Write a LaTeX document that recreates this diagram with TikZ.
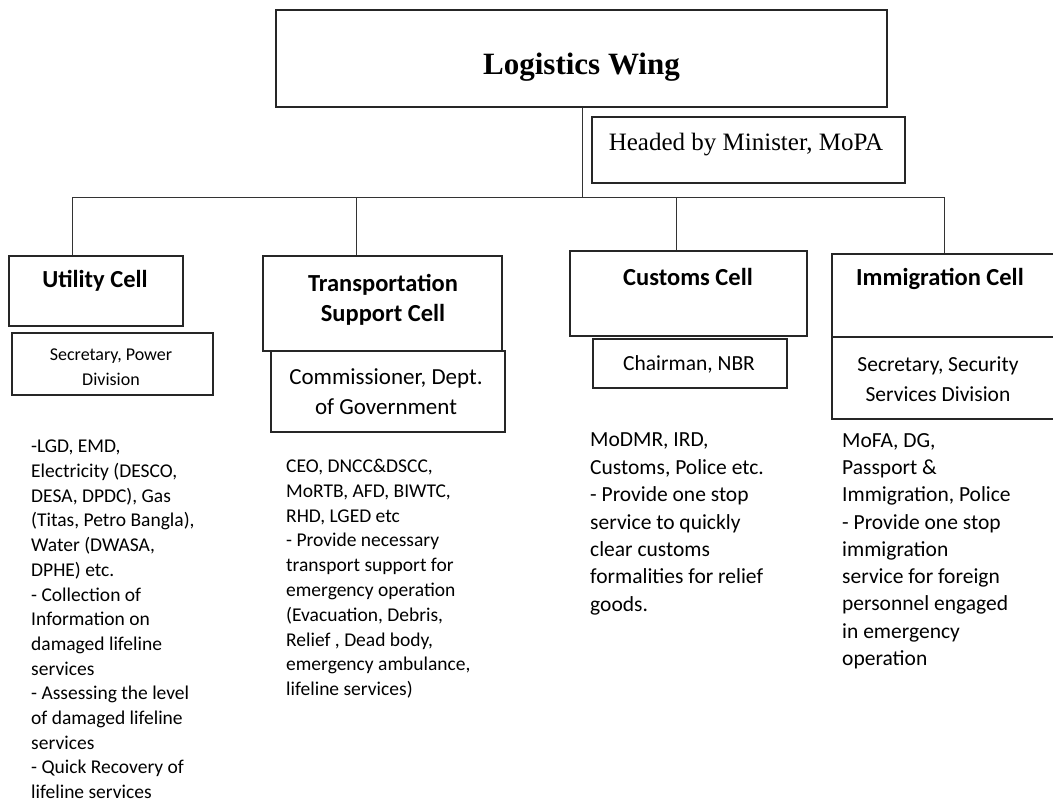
\documentclass[tikz,border=0pt]{standalone}
\usepackage{fontspec}
\setmainfont{Carlito}
\newfontfamily\serifface{Liberation Serif}
\begin{document}
\begin{tikzpicture}[x=1pt,y=-1pt,
  box/.style={draw=black!85, line width=1.1pt, inner sep=0pt},
  conn/.style={draw=black!80, line width=1pt},
  lbl/.style={inner sep=0pt, anchor=base},
  body/.style={anchor=north west, align=left, inner sep=0pt},
  title/.style={inner sep=0pt, font=\bfseries\fontsize{24.5}{30}\selectfont}]
\useasboundingbox (0,0) rectangle (1053,808);
% top
\node[box, minimum width=611pt, minimum height=97pt] (lw) at (581.5,58.5) {};
\node[lbl, font=\serifface\bfseries\fontsize{31}{36}\selectfont] (lwt) at (581.5,75) {Logistics Wing};
\node[box, minimum width=313pt, minimum height=66pt] (head) at (748.5,150) {};
\node[lbl, font=\serifface\fontsize{25}{30}\selectfont] (headt) at (746,150) {Headed by Minister, MoPA};
% bus
\coordinate (b0) at (582,197);
\coordinate (c1) at (72,197);
\coordinate (c2) at (356,197);
\coordinate (c3) at (676,197);
\coordinate (c4) at (944,197);
% utility
\node[box, minimum width=174pt, minimum height=70pt] (uc) at (96,291) {};
\node[title, anchor=base] (uct) at (95,287) {Utility Cell};
\node[box, minimum width=201pt, minimum height=62pt] (ucs) at (112.5,364) {};
\node[body, anchor=north, align=center, font=\fontsize{18}{25}\selectfont] (ucst) at (111,348.4) {Secretary, Power\\Division};
% transport
\node[box, minimum width=239pt, minimum height=95pt] (tc) at (382.5,303.5) {};
\node[title, anchor=north, align=center] (tct) at (383,274.2) {Transportation\\Support Cell};
\node[box, minimum width=234pt, minimum height=81pt] (tcs) at (388,391.5) {};
\node[body, anchor=north, align=center, font=\fontsize{23}{30}\selectfont] (tcst) at (386,368.2) {Commissioner, Dept.\\of Government};
% customs
\node[box, minimum width=237pt, minimum height=85pt] (cc) at (688.5,293.5) {};
\node[title, anchor=base] (cct) at (688,285) {Customs Cell};
\node[box, minimum width=194pt, minimum height=49pt] (ccs) at (690,363.5) {};
\node[lbl, font=\fontsize{21.5}{26}\selectfont] (ccst) at (689,370) {Chairman, NBR};
% immigration
\node[box, minimum width=228pt, minimum height=83pt] (ic) at (946,295.5) {};
\node[title, anchor=base] (ict) at (940,285) {Immigration Cell};
\node[box, minimum width=228pt, minimum height=82pt] (ics) at (946,378) {};
\node[body, anchor=north, align=center, font=\fontsize{21.5}{30}\selectfont] (icst) at (938,356.2) {Secretary, Security\\Services Division};
% connectors
\draw[conn] (lw.south -| b0) -- (b0);
\draw[conn] (c1) -- (c4);
\draw[conn] (c1) -- (c1 |- uc.north);
\draw[conn] (c2) -- (c2 |- tc.north);
\draw[conn] (c3) -- (c3 |- cc.north);
\draw[conn] (c4) -- (c4 |- ic.north);
% body texts
\node[body, font=\fontsize{19.5}{24.7}\selectfont] (ut) at (31,440) {-LGD, EMD,\\Electricity (DESCO,\\DESA, DPDC), Gas\\(Titas, Petro Bangla),\\Water (DWASA,\\DPHE) etc.\\- Collection of\\Information on\\damaged lifeline\\services\\- Assessing the level\\of damaged lifeline\\services\\- Quick Recovery of\\lifeline services};
\node[body, font=\fontsize{19.5}{24.8}\selectfont] (tt) at (286,459) {CEO, DNCC\&DSCC,\\MoRTB, AFD, BIWTC,\\RHD, LGED etc\\- Provide necessary\\transport support for\\emergency operation\\(Evacuation, Debris,\\Relief , Dead body,\\emergency ambulance,\\lifeline services)};
\node[body, font=\fontsize{21.5}{27.4}\selectfont] (ct) at (590,433) {MoDMR, IRD,\\Customs, Police etc.\\- Provide one stop\\service to quickly\\clear customs\\formalities for relief\\goods.};
\node[body, font=\fontsize{21.5}{27.3}\selectfont] (it) at (842,433) {MoFA, DG,\\Passport \&\\Immigration, Police\\- Provide one stop\\immigration\\service for foreign\\personnel engaged\\in emergency\\operation};
\end{tikzpicture}
\end{document}
